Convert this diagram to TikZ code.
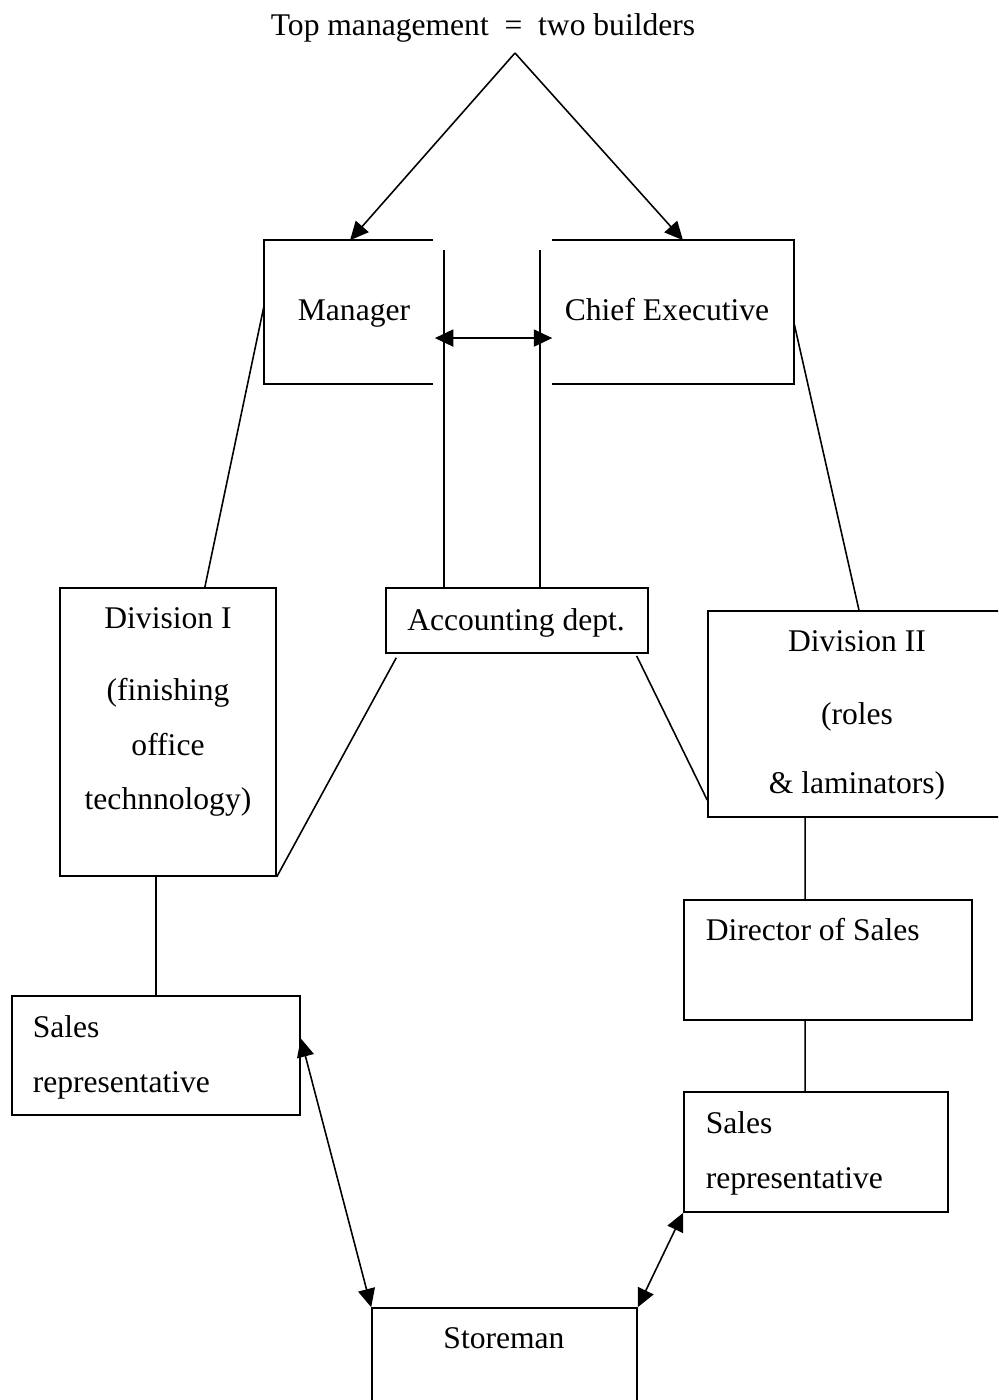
\documentclass[tikz,border=0pt]{standalone}
\usepackage{fontspec}
\setmainfont{Liberation Serif}
\usetikzlibrary{arrows.meta, positioning}

\begin{document}
\begin{tikzpicture}[x=0.38pt, y=-0.38pt, line width=0.6pt,
        font=\fontsize{12}{20.7}\selectfont,
        room/.style 2 args={minimum width=#1*0.38pt, minimum height=#2*0.38pt, inner sep=0pt},
        box/.style 2 args={room={#1}{#2}, draw},
        lbl/.style={inner sep=0pt, anchor=base},
        tip/.style={-{Triangle[length=7pt, width=6.5pt]}},
        both/.style={{Triangle[length=7pt, width=6.5pt]}-{Triangle[length=7pt, width=6.5pt]}}]
        \useasboundingbox (0, 0) rectangle (998, 1400);
        \clip (0, 0) rectangle (998, 1400);

        \node[lbl] (title) at (483, 35) {Top management\ \ =\ \ two builders};
        \coordinate (apex) at (515, 53);

        \node[room={167}{142}] (mgr) at (348.5, 312) {};
        \node[room={240}{142}] (ce) at (673, 312) {};
        \node[lbl] (mgrtxt) at (354, 320) {Manager};
        \node[lbl] (cetxt) at (667, 320) {Chief Executive};
        \coordinate (vl) at (444, 250);
        \coordinate (vr) at (540, 250);

        \node[box={216}{288}] (div1) at (168, 732) {};
        \node[inner sep=0pt, anchor=north, align=center] (div1txt) at (168, 607)
            {Division I\\[6.7pt] (finishing\\ office\\ technnology)};
        \node[box={262}{65}] (acc) at (517, 620.5) {};
        \node[lbl] (acctxt) at (516, 630) {Accounting dept.};
        \node[box={302}{206}] (div2) at (859, 714) {};
        \node[inner sep=0pt, anchor=north, align=center] (div2txt) at (857, 630)
            {Division II\\[7pt] (roles\\[5.5pt] \& laminators)};

        \node[box={288}{120}] (dir) at (828, 960) {};
        \node[lbl, anchor=base west] (dirtxt) at (705, 940) {Director of Sales};
        \node[box={288}{119}] (rep1) at (156, 1055.5) {};
        \node[inner sep=0pt, anchor=north west, align=left] (rep1txt) at (32, 1015)
            {Sales\\ representative};
        \node[box={264}{120}] (rep2) at (816, 1152) {};
        \node[inner sep=0pt, anchor=north west, align=left] (rep2txt) at (705, 1111)
            {Sales\\ representative};
        \node[box={265}{130}] (store) at (504.5, 1373) {};
        \node[lbl] (storetxt) at (504, 1348) {Storeman};

        % open boxes at the top
        \draw (mgr.north east) -- (mgr.north west) -- (mgr.south west) -- (mgr.south east);
        \draw (ce.north west) -- (ce.north east) -- (ce.south east) -- (ce.south west);

        \draw[tip] (apex) -- ([xshift=0.6pt]mgr.north);
        \draw[tip] (apex) -- ([xshift=3.8pt]ce.north);
        \draw[both] ([xshift=0.8pt, yshift=-9.9pt]mgr.east) -- ([yshift=-9.9pt]ce.west);
        \draw (vl) -- (vl |- acc.north)
            (vr) -- (vr |- acc.north)
            ([yshift=2.7pt]mgr.west) -- ([xshift=14pt]div1.north)
            ([yshift=-3.8pt]ce.east) -- (div2.north)
            ([xshift=4.2pt, yshift=-1.5pt]acc.south west) -- (div1.south east)
            ([xshift=-4.6pt, yshift=-0.8pt]acc.south east) -- ([yshift=-32.7pt]div2.west)
            (rep1.north |- div1.south) -- (rep1.north)
            ([xshift=-8.7pt]dir.north |- div2.south) -- ([xshift=-8.7pt]dir.north)
            ([xshift=-8.7pt]dir.south) -- ([xshift=-8.7pt]dir.south |- rep2.north);
        \draw[both] ([yshift=6.5pt]rep1.east) -- (store.north west);
        \draw[both] (rep2.south west) -- (store.north east);
    \end{tikzpicture}
\end{document}
